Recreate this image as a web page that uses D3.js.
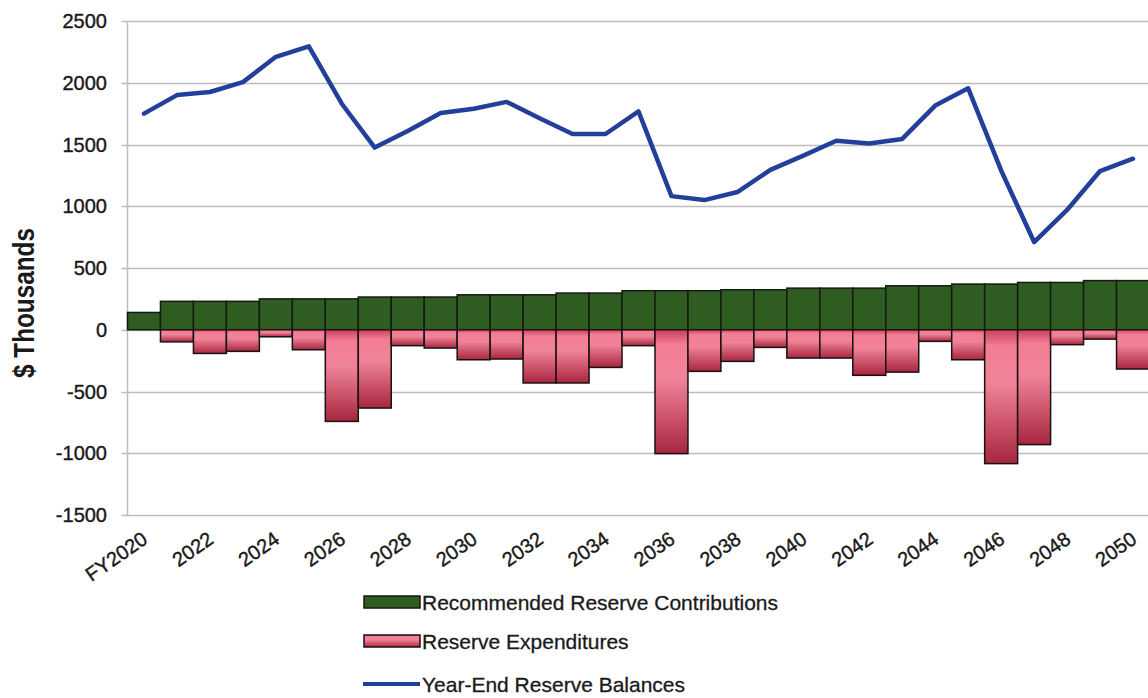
<!DOCTYPE html>
<html><head><meta charset="utf-8">
<script src="https://cdn.jsdelivr.net/npm/d3@7/dist/d3.min.js"></script>
<style>
html,body{margin:0;padding:0;background:#fff;}
svg{display:block;font-family:"Liberation Sans",Arial,sans-serif;}
</style></head>
<body><svg id="chart" width="1148" height="698"></svg>
<script>
const years = ["FY2020","2021","2022","2023","2024","2025","2026","2027","2028","2029","2030","2031","2032","2033","2034","2035","2036","2037","2038","2039","2040","2041","2042","2043","2044","2045","2046","2047","2048","2049","2050"];
const contributions = [140,230,230,230,250,250,250,265,265,265,283,283,283,297,297,316,316,316,324,324,337,337,337,356,356,370,370,383,383,398,398];
const expenditures = [0,-98,-192,-175,-57,-162,-742,-634,-129,-148,-243,-237,-431,-431,-305,-129,-1003,-337,-256,-143,-229,-229,-369,-343,-94,-243,-1084,-930,-121,-76,-318];
const balances = [1750,1900,1925,2005,2210,2295,1830,1475,1610,1755,1790,1845,1712,1585,1585,1768,1082,1050,1115,1295,1410,1530,1508,1545,1815,1955,1290,710,970,1285,1385];
const yTicks = [-1500,-1000,-500,0,500,1000,1500,2000,2500];
const xLabels = ["FY2020","2022","2024","2026","2028","2030","2032","2034","2036","2038","2040","2042","2044","2046","2048","2050"];
const legendItems = ["Recommended Reserve Contributions","Reserve Expenditures","Year-End Reserve Balances"];

const svg = d3.select("#chart");
const mLeft = 127.5, mRight = 1149.5, mTop = 21, mBottom = 515;
const x = d3.scaleBand().domain(years).range([mLeft, mRight]).padding(0);
const y = d3.scaleLinear().domain([-1500, 2500]).range([mBottom, mTop]);
const ink = "#1a1a1a";

const defs = svg.append("defs");
const gr = defs.append("linearGradient").attr("id","redGrad").attr("x1",0).attr("y1",0).attr("x2",0).attr("y2",1);
gr.append("stop").attr("offset","0%").attr("stop-color","#c8405c");
gr.append("stop").attr("offset","12%").attr("stop-color","#f47d94");
gr.append("stop").attr("offset","40%").attr("stop-color","#f08398");
gr.append("stop").attr("offset","100%").attr("stop-color","#a8263f");

// gridlines
svg.append("g").selectAll("line").data(yTicks).join("line")
  .attr("x1", mLeft - 6).attr("x2", mRight)
  .attr("y1", d => Math.round(y(d)) + 0.5).attr("y2", d => Math.round(y(d)) + 0.5)
  .attr("stroke", "#bdbdbd").attr("stroke-width", 1.5);
// axis line
svg.append("line").attr("x1", mLeft).attr("x2", mLeft).attr("y1", mTop).attr("y2", mBottom)
  .attr("stroke", "#bdbdbd").attr("stroke-width", 1.5);

// y labels
svg.append("g").selectAll("text").data(yTicks).join("text")
  .attr("x", 107).attr("y", d => y(d) + 7)
  .attr("text-anchor", "end").attr("font-size", 20).attr("fill", ink)
  .attr("stroke", ink).attr("stroke-width", 0.4)
  .text(d => d);

// y title
svg.append("text").attr("transform", "translate(34,303) rotate(-90)")
  .attr("text-anchor", "middle").attr("font-size", 29).attr("font-weight", "bold").attr("fill", ink)
  .attr("textLength", 150).attr("lengthAdjust", "spacingAndGlyphs")
  .text("$ Thousands");

// bars
svg.append("g").selectAll("rect").data(years).join("rect")
  .attr("x", d => x(d)).attr("width", x.bandwidth())
  .attr("y", (d,i) => y(contributions[i])).attr("height", (d,i) => y(0) - y(contributions[i]))
  .attr("fill", "#2f5d21").attr("stroke", "#151a12").attr("stroke-width", 1.5);
svg.append("g").selectAll("rect").data(years.filter((d,i) => expenditures[i] < 0)).join("rect")
  .attr("x", d => x(d)).attr("width", x.bandwidth())
  .attr("y", y(0)).attr("height", d => y(expenditures[years.indexOf(d)]) - y(0))
  .attr("fill", "url(#redGrad)").attr("stroke", "#1a1212").attr("stroke-width", 1.5);

// line
const line = d3.line().x((d,i) => x(years[i]) + x.bandwidth()/2).y(d => y(d));
svg.append("path").datum(balances).attr("d", line)
  .attr("fill", "none").attr("stroke", "#22409a").attr("stroke-width", 4.5)
  .attr("stroke-linejoin", "round").attr("stroke-linecap", "round");

// x labels
svg.append("g").selectAll("text").data(xLabels).join("text")
  .attr("transform", d => `translate(${x(d) + x.bandwidth()/2 + 5},${mBottom + 27}) rotate(-35)`)
  .attr("text-anchor", "end").attr("font-size", 20).attr("fill", ink)
  .attr("stroke", ink).attr("stroke-width", 0.4)
  .text(d => d);

// legend
const ly = [602, 641, 684];
const lg = svg.append("g");
lg.append("rect").attr("x", 364).attr("y", ly[0]-6).attr("width", 56).attr("height", 12)
  .attr("fill", "#2f5d21").attr("stroke", "#151a12").attr("stroke-width", 1.5);
lg.append("rect").attr("x", 364).attr("y", ly[1]-6).attr("width", 56).attr("height", 12)
  .attr("fill", "url(#redGrad)").attr("stroke", "#1a1212").attr("stroke-width", 1.5);
lg.append("line").attr("x1", 363).attr("x2", 420).attr("y1", ly[2]).attr("y2", ly[2])
  .attr("stroke", "#22409a").attr("stroke-width", 4);
lg.selectAll("text").data(legendItems).join("text")
  .attr("x", 422).attr("y", (d,i) => ly[i] + 7.5)
  .attr("font-size", 21).attr("fill", ink)
  .attr("stroke", ink).attr("stroke-width", 0.3)
  .text(d => d);
</script></body></html>
